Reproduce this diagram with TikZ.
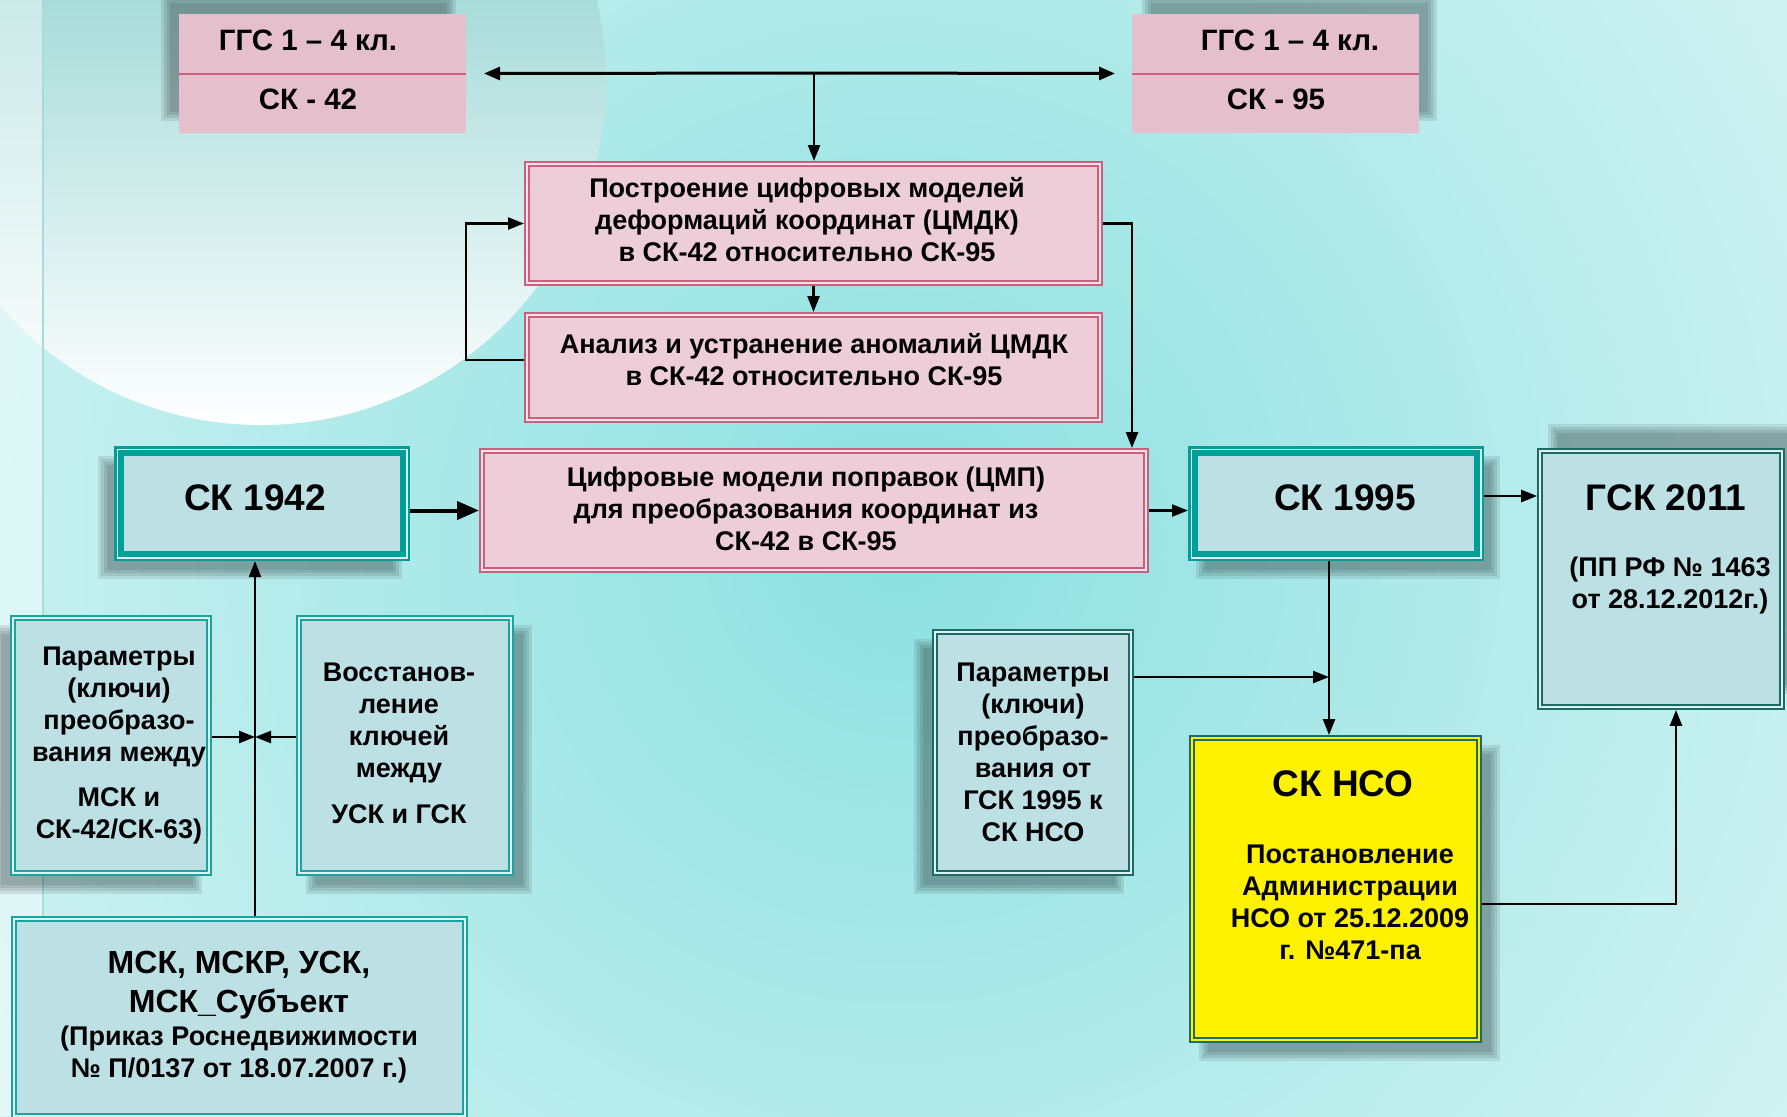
\documentclass[tikz,border=0pt]{standalone}
\usepackage{fontspec}
\setmainfont{Liberation Sans}
\usetikzlibrary{arrows.meta,fit,calc}

\definecolor{pfill}{HTML}{EDCDD8}
\definecolor{pline}{HTML}{C8607E}
\definecolor{pgap}{HTML}{F4E2E8}
\definecolor{topfill}{HTML}{E5BFCB}
\definecolor{tfill}{HTML}{BCE0E3}
\definecolor{tealc}{HTML}{009E98}
\definecolor{tealm}{HTML}{1AA4A0}
\definecolor{dteal}{HTML}{1E6A65}
\definecolor{tgap}{HTML}{DDF2F2}
\definecolor{bgc}{HTML}{8CE0E0}
\definecolor{circtop}{HTML}{72C6C2}
\definecolor{stripline}{HTML}{A8DCDC}

\newcommand\softshadow[4]{%
  \foreach \k in {0,3,6,9}{\fill[black,opacity=0.09] (#1+\k,#2+\k) rectangle (#3-\k,#4-\k);}}

\begin{document}
\begin{tikzpicture}[x=0.5pt,y=-0.5pt,
  box/.style={rectangle, inner sep=0pt, outer sep=0pt},
  plainpink/.style={box, fill=topfill},
  pinkbox/.style={box, fill=pfill, draw=pline, line width=1pt, double=pgap, double distance=1pt, outer sep=1.5pt},
  thickteal/.style={box, fill=tfill, draw=tealc, line width=5pt, outer sep=2.5pt},
  tealdbl/.style={box, fill=tfill, draw=tealm, line width=1.1pt, double=tgap, double distance=0.7pt, outer sep=1.45pt},
  darkdbl/.style={box, fill=tfill, draw=dteal, line width=1.1pt, double=tgap, double distance=0.7pt, outer sep=1.45pt},
  yellowbox/.style={box, fill=yellow, draw=dteal, line width=1pt, double=yellow, double distance=1pt, outer sep=1.5pt},
  txt/.style={align=center, inner sep=0pt, font=\bfseries\fontsize{13.5}{16}\selectfont},
  toptxt/.style={inner sep=0pt, font=\bfseries\fontsize{14.75}{17}\selectfont},
  bigtxt/.style={inner sep=0pt, font=\bfseries\fontsize{18.5}{22}\selectfont},
  midtxt/.style={align=center, inner sep=0pt, font=\bfseries\fontsize{16}{19.5}\selectfont},
  arr/.style={-{Triangle[length=8pt,width=6pt]}, line width=1.2pt},
  toparr/.style={-{Triangle[length=8pt,width=6.5pt]}, line width=1.5pt},
  bigarr/.style={-{Triangle[length=11pt,width=9pt]}, line width=2pt}
]
\useasboundingbox (0,0) rectangle (1787,1116);

% ---------- background ----------
\begin{scope}
  \clip (0,0) rectangle (1787,1116);
  \fill[white] (0,0) rectangle (1787,1116);
  \shade[inner color=bgc, outer color=white] (900,540) circle (1750);
  \shade[top color=circtop, bottom color=white] (261,80) circle (345);
  \fill[white, opacity=0.4] (0,0) rectangle (43,1116);
  \draw[stripline, line width=0.8pt] (43,0) -- (43,1116);
\end{scope}

% ---------- shadows ----------
\softshadow{161}{-6}{456}{121}
\softshadow{1142}{-6}{1437}{121}
\softshadow{98}{456}{402}{579}
\softshadow{1196}{456}{1500}{579}
\softshadow{1548}{424}{1804}{694}
\softshadow{-8}{625}{202}{894}
\softshadow{306}{625}{532}{894}
\softshadow{914}{639}{1124}{894}
\softshadow{1199}{745}{1500}{1061}

% ---------- top boxes ----------
\node[plainpink, fit={(179,14) (466,133)}] (A) {};
\draw[pline, line width=1pt] (A.west) -- (A.east);
\node[toptxt] (A1) at (308,40) {ГГС 1 – 4 кл.};
\node[toptxt] (A2) at (308,99) {СК - 42};

\node[plainpink, fit={(1132,14) (1419,133)}] (B) {};
\draw[pline, line width=1pt] (B.west) -- (B.east);
\node[toptxt] (B1) at (1290,40) {ГГС 1 – 4 кл.};
\node[toptxt] (B2) at (1276,99) {СК - 95};

% ---------- pink process boxes ----------
\node[pinkbox, fit={(527,164) (1100,283)}] (C) {};
\node[txt] (Ct) at (807,220) {Построение цифровых моделей\\деформаций координат (ЦМДК)\\в СК-42 относительно СК-95};

\node[pinkbox, fit={(527,315) (1100,420)}] (D) {};
\node[txt] (Dt) at (814,360) {Анализ и устранение аномалий ЦМДК\\в СК-42 относительно СК-95};

\node[pinkbox, fit={(482,451) (1146,570)}] (E) {};
\node[txt] (Et) at (806,509) {Цифровые модели поправок (ЦМП)\\для преобразования координат из\\СК-42 в СК-95};

% ---------- teal boxes ----------
\node[thickteal, fit={(119,451) (405,556)}] (K42) {};
\draw[tgap, line width=0.75pt] ([shift={(3.25,3.25)}]K42.north west) rectangle ([shift={(-3.25,-3.25)}]K42.south east);
\node[bigtxt] (K42t) at (255,498) {СК 1942};

\node[thickteal, fit={(1193,451) (1479,556)}] (K95) {};
\draw[tgap, line width=0.75pt] ([shift={(3.25,3.25)}]K95.north west) rectangle ([shift={(-3.25,-3.25)}]K95.south east);
\node[bigtxt] (K95t) at (1345,498) {СК 1995};

\node[darkdbl, fit={(1540,451) (1782,707)}] (G11) {};
\node[bigtxt] (G11t) at (1666,498) {ГСК 2011};
\node[txt] (G11s) at (1670,585) {(ПП РФ № 1463\\от 28.12.2012г.)};

\node[tealdbl, fit={(13,618) (209,873)}] (P1) {};
\node[txt] (P1t) at (119,745.5) {Параметры\\(ключи)\\преобразо-\\вания между\\[6.5pt]МСК и\\СК-42/СК-63)};

\node[tealdbl, fit={(299,618) (511,873)}] (V) {};
\node[txt] (Vt) at (399,743) {Восстанов-\\ление\\ключей\\между\\[7pt]УСК и ГСК};

\node[tealdbl, fit={(14,919) (465,1116)}] (M) {};
\node[midtxt] (M1) at (239,985) {МСК, МСКР, УСК,\\МСК\_Субъект};
\node[txt] (M2) at (239,1054) {(Приказ Роснедвижимости\\№ П/0137 от 18.07.2007 г.)};

\node[darkdbl, fit={(935,632) (1131,873)}] (P2) {};
\node[txt] (P2t) at (1033,752) {Параметры\\(ключи)\\преобразо-\\вания от\\ГСК 1995 к\\СК НСО};

\node[yellowbox, fit={(1192,738) (1479,1040)}] (N) {};
\node[bigtxt] (Nt) at (1343,784) {СК НСО};
\node[txt] (Ns) at (1350,902.5) {Постановление\\Администрации\\НСО от 25.12.2009\\г. №471-па};

% ---------- connectors ----------
\coordinate (tl) at ($(A.east)+(18,0)$);
\coordinate (tr) at ($(B.west)+(-17,0)$);
\coordinate (tm) at (814,73);
\draw[toparr] (tm) -- (tl);
\draw[toparr] (tm) -- (tr);
\draw[arr] (tm) -- (tm |- C.north);

\draw[arr] (C.south) -- (D.north);
\draw[arr] ($(D.west)+(0,-7.5)$) -- ++(-58,0) |- (C.west);
\draw[arr] (C.east) -| ($(E.north east)+(-17,0)$);

\draw[bigarr] (K42.east |- E.west) -- (E.west);
\draw[arr] (E.east) -- (E.east -| K95.west);
\coordinate (k95r) at ($(K95.east)+(0,-7.5)$);
\draw[arr] (k95r) -- (k95r -| G11.west);

\coordinate (j2) at (1329,677);
\draw[arr] (K95.south -| j2) -- (N.north -| j2);
\draw[arr] (P2.east |- j2) -- (j2);
\coordinate (nr) at ($(N.east)+(0,15)$);
\draw[arr] (nr) -| ($(G11.south)+(15,0)$);

\coordinate (j1) at (255,737);
\draw[arr, line width=1pt] (M.north -| j1) -- (K42.south -| j1);
\draw[arr] (P1.east |- j1) -- (j1);
\draw[arr] (V.west |- j1) -- (j1);
\end{tikzpicture}
\end{document}
